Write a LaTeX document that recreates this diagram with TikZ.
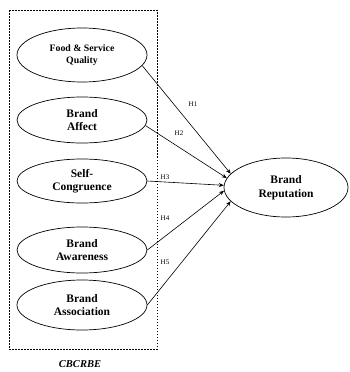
\documentclass[tikz,border=0pt]{standalone}
\usepackage{fontspec}
\setmainfont{Liberation Serif}
\usetikzlibrary{shapes.geometric,arrows.meta}
\begin{document}
\begin{tikzpicture}[x=1pt,y=-1pt,
  ell/.style={draw,ellipse,line width=0.7pt,minimum width=130pt,minimum height=46pt,inner sep=0pt,align=center,font=\bfseries\fontsize{11.5}{13.5}\selectfont},
  conn/.style={line width=0.6pt,-{Stealth[length=5pt,width=4pt]}},
  hlab/.style={font=\fontsize{7}{8}\selectfont,inner sep=0pt}]
\useasboundingbox (0,0) rectangle (349,372);
\draw[dashed,dash pattern=on 1.5pt off 1.5pt,line width=0.8pt] (9,10) rectangle (157,349);
\node[ell,minimum height=54pt,font=\bfseries\fontsize{9.8}{12}\selectfont] (e1) at (82,55) {Food \& Service\\Quality};
\node[ell] (e2) at (82,120) {Brand\\Affect};
\node[ell,minimum height=44pt] (e3) at (82,181) {Self-\\Congruence};
\node[ell] (e4) at (82,250) {Brand\\Awareness};
\node[ell,minimum height=50pt] (e5) at (82,305) {Brand\\Association};
\node[ell,minimum width=124pt,minimum height=59pt] (rep) at (286,187.5) {Brand\\Reputation};
\node[font=\bfseries\itshape\fontsize{10.5}{12}\selectfont] (lab) at (80,364) {CBCRBE};
\draw[conn] (e1.-10) -- (rep.166);
\draw[conn] (e2.-5) -- (rep.171);
\draw[conn] (e3.east) -- (rep.178);
\draw[conn] (e4.east) -- (rep.183);
\draw[conn] (e5.east) -- (rep.194);
\node[hlab] (h1) at (193,104) {H1};
\node[hlab] (h2) at (179,133) {H2};
\node[hlab] (h3) at (165,177) {H3};
\node[hlab] (h4) at (165,218) {H4};
\node[hlab] (h5) at (165,262) {H5};
\end{tikzpicture}
\end{document}
